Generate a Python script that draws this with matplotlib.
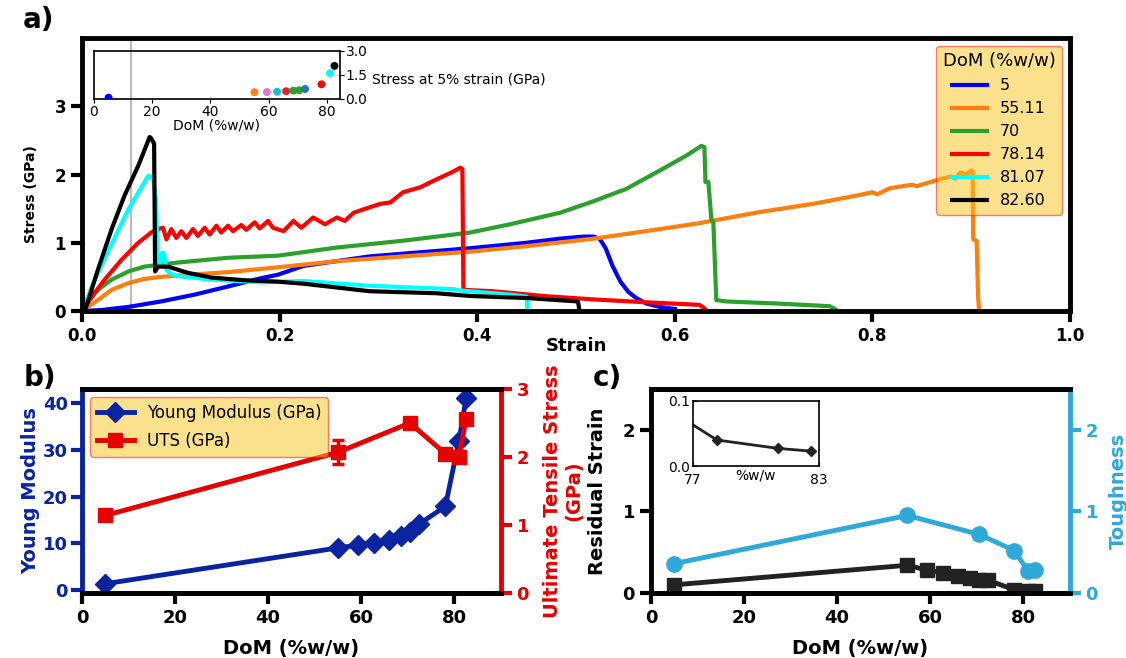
import matplotlib
matplotlib.use("Agg")
import matplotlib.pyplot as plt

# ---------------- a) stress-strain curves ----------------
dom_labels = ["5", "55.11", "70", "78.14", "81.07", "82.60"]

strain_5 = [0, 0.02, 0.047, 0.080, 0.114, 0.148, 0.181, 0.198, 0.224, 0.291, 0.359,
            0.393, 0.45, 0.484, 0.507, 0.518, 0.524, 0.530, 0.537, 0.545, 0.553,
            0.561, 0.571, 0.585, 0.60]
stress_5 = [0, 0.015, 0.06, 0.14, 0.24, 0.36, 0.48, 0.53, 0.66, 0.80, 0.88,
            0.92, 1.0, 1.06, 1.09, 1.09, 1.06, 0.92, 0.66, 0.43, 0.28,
            0.19, 0.11, 0.06, 0.03]

strain_55 = [0, 0.008, 0.016, 0.030, 0.047, 0.063, 0.080, 0.097, 0.148, 0.198, 0.258,
             0.325, 0.393, 0.45, 0.518, 0.585, 0.626, 0.686, 0.74, 0.787, 0.80,
             0.805, 0.818, 0.84, 0.845, 0.868, 0.88, 0.884, 0.889, 0.895, 0.900,
             0.9015, 0.902, 0.9055, 0.907, 0.908]
stress_55 = [0, 0.08, 0.16, 0.31, 0.41, 0.47, 0.50, 0.52, 0.57, 0.64, 0.73,
             0.80, 0.87, 0.95, 1.06, 1.20, 1.29, 1.45, 1.57, 1.70, 1.74,
             1.71, 1.80, 1.85, 1.83, 1.93, 1.97, 1.94, 2.03, 2.00, 2.06,
             2.05, 1.05, 1.03, 0.2, 0.0]

strain_70 = [0, 0.008, 0.016, 0.030, 0.047, 0.063, 0.097, 0.148, 0.198, 0.258, 0.325,
             0.393, 0.433, 0.484, 0.518, 0.551, 0.585, 0.612, 0.627, 0.630, 0.631,
             0.634, 0.637, 0.639, 0.642, 0.652, 0.703, 0.757, 0.762]
stress_70 = [0, 0.17, 0.31, 0.46, 0.58, 0.65, 0.71, 0.78, 0.81, 0.93, 1.03,
             1.15, 1.27, 1.44, 1.61, 1.79, 2.06, 2.28, 2.42, 2.40, 1.89,
             1.89, 1.34, 1.30, 0.16, 0.14, 0.11, 0.07, 0.03]

strain_78 = [0, 0.012, 0.023, 0.040, 0.057, 0.070, 0.077,
             0.082, 0.0854, 0.0904, 0.0955, 0.1005, 0.1056, 0.1123, 0.1174, 0.1242,
             0.1292, 0.136, 0.141, 0.1478, 0.1528, 0.1613, 0.1663, 0.1748, 0.1798,
             0.1883, 0.1933, 0.204, 0.214, 0.222, 0.234, 0.246, 0.258, 0.266, 0.275,
             0.285, 0.302, 0.312, 0.325, 0.342, 0.359, 0.374, 0.383, 0.385, 0.386,
             0.416, 0.467, 0.517, 0.568, 0.625, 0.629, 0.632]
stress_78 = [0, 0.25, 0.46, 0.75, 1.0, 1.15, 1.20,
             1.22, 1.05, 1.20, 1.07, 1.17, 1.07, 1.20, 1.10, 1.22,
             1.12, 1.25, 1.15, 1.25, 1.17, 1.26, 1.19, 1.30, 1.21,
             1.32, 1.22, 1.17, 1.32, 1.22, 1.37, 1.27, 1.37, 1.32, 1.44,
             1.49, 1.57, 1.59, 1.74, 1.81, 1.93, 2.03, 2.10, 2.08, 0.31,
             0.29, 0.22, 0.17, 0.13, 0.09, 0.05, 0.01]

strain_81 = [0, 0.013, 0.026, 0.047, 0.067, 0.072, 0.075, 0.0765, 0.079, 0.081,
             0.083, 0.085, 0.087, 0.089, 0.097, 0.131, 0.181, 0.224, 0.291, 0.376,
             0.383, 0.433, 0.45, 0.451]
stress_81 = [0, 0.46, 0.86, 1.49, 1.98, 1.95, 1.61, 0.78, 0.68, 0.85,
             0.85, 0.62, 0.58, 0.55, 0.51, 0.46, 0.42, 0.44, 0.37, 0.32,
             0.30, 0.24, 0.21, 0.0]

strain_82 = [0, 0.004, 0.016, 0.030, 0.043, 0.057, 0.0685, 0.070, 0.073, 0.074,
             0.077, 0.087, 0.107, 0.131, 0.165, 0.198, 0.224, 0.291, 0.359, 0.393,
             0.45, 0.502, 0.503]
stress_82 = [0, 0.05, 0.6, 1.2, 1.69, 2.13, 2.55, 2.53, 2.45, 0.58,
             0.65, 0.65, 0.56, 0.49, 0.45, 0.43, 0.40, 0.29, 0.26, 0.22,
             0.19, 0.14, 0.05]

curves = [(strain_5, stress_5), (strain_55, stress_55), (strain_70, stress_70),
          (strain_78, stress_78), (strain_81, stress_81), (strain_82, stress_82)]
curve_colors = ["blue", "tab:orange", "tab:green", "red", "cyan", "black"]

# ---------------- per-sample properties ----------------
dom_all = [5, 55.11, 59.4, 62.9, 66.0, 68.5, 70.5, 72.5, 78.14, 81.07, 82.60]
stress_at_5 = [0.08, 0.42, 0.43, 0.45, 0.48, 0.52, 0.54, 0.62, 0.91, 1.60, 2.05]
young = [1.3, 9.0, 9.6, 10.1, 10.7, 11.6, 12.3, 14.1, 17.9, 32.0, 41.1]
residual = [0.10, 0.34, 0.28, 0.245, 0.21, 0.18, 0.165, 0.155, 0.04, 0.027, 0.023]
inset_colors = ["blue", "tab:orange", "tab:pink", "tab:cyan", "tab:red", "tab:green",
                "tab:green", "tab:blue", "red", "cyan", "black"]

dom_main = [5, 55.11, 70.5, 78.14, 81.07, 82.60]
uts = [1.14, 2.07, 2.50, 2.05, 2.00, 2.56]
uts_err = [0.03, 0.18, 0.04, 0.06, 0.05, 0.05]
toughness = [0.36, 0.95, 0.72, 0.52, 0.27, 0.28]

NAVY = "#0a23a0"
RED = "#e60000"
SKY = "#2fa8da"
DARK = "#222222"
LEG_FACE = "#fbc41a"

W, H = 1126, 658
fig = plt.figure(figsize=(W / 100, H / 100), dpi=100)


def style_axes(ax, size=13):
    for s in ax.spines.values():
        s.set_linewidth(3.5)
    ax.tick_params(width=3, length=8, labelsize=size)
    for lab in ax.get_xticklabels() + ax.get_yticklabels():
        lab.set_fontweight("bold")


# ---- panel a ----
ax_a = fig.add_axes([82 / W, 1 - 311 / H, 988 / W, 273 / H])
ax_a.axvline(0.05, color="#bbbbbb", lw=1.5, zorder=0)
for (x, y), c, lab in zip(curves, curve_colors, dom_labels):
    ax_a.plot(x, y, color=c, lw=3, label=lab)
ax_a.set_xlim(0, 1.0)
ax_a.set_ylim(0, 4.0)
ax_a.set_xticks([0, 0.2, 0.4, 0.6, 0.8, 1.0])
ax_a.set_yticks([0, 1, 2, 3])
style_axes(ax_a, 12)
ax_a.set_xlabel("Strain", fontsize=13, fontweight="bold", labelpad=-6)
ax_a.set_ylabel("Stress (GPa)", fontsize=10, fontweight="bold")
ax_a.yaxis.set_label_coords(-0.045, 0.43)
leg = ax_a.legend(title="DoM (%w/w)", loc="upper right", fontsize=11.5,
                  title_fontsize=13, facecolor=LEG_FACE, edgecolor="red",
                  framealpha=0.5, handlelength=2.2)
for ln in leg.get_lines():
    ln.set_linewidth(3)

ax_in = fig.add_axes([94 / W, 1 - 99 / H, 246 / W, 48.5 / H])
ax_in.patch.set_alpha(0)
ax_in.scatter(dom_all, stress_at_5, c=inset_colors, s=22, zorder=3)
ax_in.set_xlim(0, 84.5)
ax_in.set_ylim(0, 3.0)
ax_in.set_xticks([0, 20, 40, 60, 80])
ax_in.set_yticks([0, 1.5, 3.0])
ax_in.yaxis.tick_right()
ax_in.tick_params(labelsize=10, length=3, pad=1)
for s in ax_in.spines.values():
    s.set_linewidth(1.2)
ax_in.set_xlabel("DoM (%w/w)", fontsize=10, labelpad=0)
ax_in.text(1.13, 0.4, "Stress at 5% strain (GPa)", transform=ax_in.transAxes,
           fontsize=10, ha="left", va="center")

# ---- panel b ----
ax_b = fig.add_axes([82 / W, 1 - 593 / H, 418.5 / W, 204 / H])
ax_b2 = ax_b.twinx()
l_young, = ax_b.plot(dom_all, young, color=NAVY, lw=3.5, marker="D", ms=10)
eb = ax_b2.errorbar(dom_main, uts, yerr=uts_err, color=RED, lw=3.5, marker="s",
                    ms=10, capsize=4, capthick=2.5, elinewidth=2.5)
ax_b.set_xlim(0, 90)
ax_b.set_xticks([0, 20, 40, 60, 80])
ax_b.set_yticks([0, 10, 20, 30, 40])
ax_b2.set_ylim(0, 3)
ax_b2.set_yticks([0, 1, 2, 3])
style_axes(ax_b)
style_axes(ax_b2)
ax_b.spines["right"].set_visible(False)
ax_b.spines["left"].set_color(NAVY)
ax_b2.spines["left"].set_visible(False)
ax_b2.spines["right"].set_color(RED)
ax_b.tick_params(axis="y", colors=NAVY, pad=2)
ax_b2.tick_params(axis="y", colors=RED)
ax_b.set_xlabel("DoM (%w/w)", fontsize=14, fontweight="bold", labelpad=9)
ax_b.set_ylabel("Young Modulus", fontsize=14, fontweight="bold", color=NAVY,
                labelpad=2)
ax_b2.set_ylabel("Ultimate Tensile Stress\n(GPa)", fontsize=14,
                 fontweight="bold", color=RED, labelpad=10)
ax_b2.legend([l_young, eb.lines[0]], ["Young Modulus (GPa)", "UTS (GPa)"],
             loc="upper left", fontsize=12, facecolor=LEG_FACE,
             edgecolor="red", framealpha=0.5, handlelength=2.2, labelspacing=0.6)

# ---- panel c ----
ax_c = fig.add_axes([651 / W, 1 - 593 / H, 418.5 / W, 204 / H])
ax_c2 = ax_c.twinx()
ax_c.plot(dom_all, residual, color=DARK, lw=3.5, marker="s", ms=10)
ax_c2.plot(dom_main, toughness, color=SKY, lw=3.5, marker="o", ms=11)
ax_c.set_xlim(0, 90)
ax_c.set_xticks([0, 20, 40, 60, 80])
ax_c.set_ylim(0, 2.5)
ax_c.set_yticks([0, 1, 2])
ax_c2.set_ylim(0, 2.5)
ax_c2.set_yticks([0, 1, 2])
style_axes(ax_c)
style_axes(ax_c2)
ax_c.spines["right"].set_visible(False)
ax_c2.spines["left"].set_visible(False)
ax_c2.spines["right"].set_color(SKY)
ax_c2.tick_params(axis="y", colors=SKY)
ax_c.set_xlabel("DoM (%w/w)", fontsize=14, fontweight="bold", labelpad=9)
ax_c.set_ylabel("Residual Strain", fontsize=14, fontweight="bold", labelpad=11)
ax_c2.set_ylabel("Toughness", fontsize=14, fontweight="bold", color=SKY, labelpad=7.5)

ax_ci = fig.add_axes([693 / W, 1 - 466 / H, 126 / W, 65 / H])
ax_ci.plot(dom_all, residual, color=DARK, lw=2, marker="D", ms=5)
ax_ci.set_xlim(77, 83)
ax_ci.set_ylim(0, 0.1)
ax_ci.set_xticks([77, 83])
ax_ci.set_yticks([0, 0.1])
ax_ci.set_yticklabels(["0.0", "0.1"])
ax_ci.tick_params(labelsize=10, direction="in", length=3, pad=2)
ax_ci.tick_params(axis="x", pad=5)
for s in ax_ci.spines.values():
    s.set_linewidth(1.2)
ax_ci.set_xlabel("%w/w", fontsize=10, labelpad=-13)

# panel letters
fig.text(38 / W, 1 - 20 / H, "a)", fontsize=20, fontweight="bold", ha="center", va="center")
fig.text(40 / W, 1 - 378 / H, "b)", fontsize=20, fontweight="bold", ha="center", va="center")
fig.text(607 / W, 1 - 378 / H, "c)", fontsize=20, fontweight="bold", ha="center", va="center")

fig.savefig("out.png", dpi=100)
